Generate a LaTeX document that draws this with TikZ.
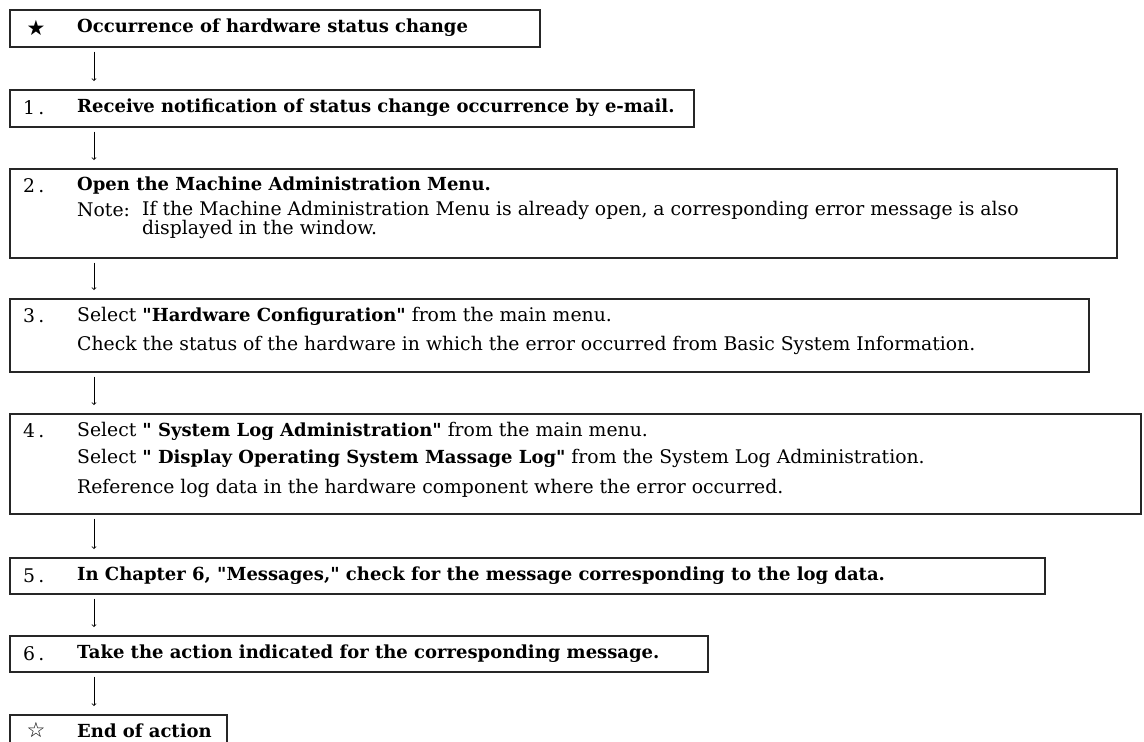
\documentclass[tikz,border=0pt]{standalone}
\usepackage{fontspec}
\newfontfamily\bodyfont{DejaVu Serif}
\newfontfamily\symbolfont{DejaVu Sans}
\usetikzlibrary{arrows,positioning}

\begin{document}
\begin{tikzpicture}[x=1pt,y=-1pt,
  stepbox/.style={draw=black!85, line width=1.5pt, anchor=north west, inner sep=0pt},
  steptext/.style={anchor=west, inner sep=0pt, font=\fontsize{18.8}{20}\bodyfont},
  stepbold/.style={anchor=west, inner sep=0pt, font=\fontsize{18}{20}\bodyfont\bfseries},
  stepnum/.style={anchor=west, inner sep=0pt, font=\fontsize{18.8}{20}\bodyfont},
  stepstar/.style={inner sep=0pt, font=\fontsize{21}{24}\symbolfont},
  flow/.style={->, line width=0.8pt, shorten <=4pt, shorten >=8pt}]
\clip (0,0) rectangle (1144,742);
\coordinate (lane) at (94,0);

\node[stepbox, minimum width=530pt, minimum height=37pt] (box0) at (9,9) {};
\node[stepbox, minimum width=684pt, minimum height=37pt] (box1) at (9,89) {};
\node[stepbox, minimum width=1107pt, minimum height=89pt] (box2) at (9,168) {};
\node[stepbox, minimum width=1079pt, minimum height=73pt] (box3) at (9,298) {};
\node[stepbox, minimum width=1131pt, minimum height=100pt] (box4) at (9,413) {};
\node[stepbox, minimum width=1035pt, minimum height=36pt] (box5) at (9,557) {};
\node[stepbox, minimum width=698pt, minimum height=36pt] (box6) at (9,635) {};
\node[stepbox, minimum width=217pt, minimum height=40pt] (box7) at (9,714) {};

\node[stepstar] (star0) at (36,28) {★};
\node[stepbold] (text0) at (77,28) {Occurrence of hardware status change};

\node[stepnum] (num1) at (23,108) {1\,.};
\node[stepbold] (text1) at (77,108) {Receive notification of status change occurrence by e-mail.};

\node[stepnum] (num2) at (23,186) {2\,.};
\node[stepbold] (text2) at (77,186) {Open the Machine Administration Menu.};
\node[steptext] (note2) at (77,210) {Note:};
\node[steptext] (note2a) at (142,210) {If the Machine Administration Menu is already open, a corresponding error message is also};
\node[steptext] (note2b) at (142,229) {displayed in the window.};

\node[stepnum] (num3) at (23,316) {3\,.};
\node[steptext] (text3) at (77,316) {Select {\fontsize{18}{20}\selectfont\bfseries"Hardware Configuration"} from the main menu.};
\node[steptext] (text3a) at (77,345) {Check the status of the hardware in which the error occurred from Basic System Information.};

\node[stepnum] (num4) at (23,431) {4\,.};
\node[steptext] (text4) at (77,431) {Select {\fontsize{18}{20}\selectfont\bfseries" System Log Administration"} from the main menu.};
\node[steptext] (text4a) at (77,458) {Select {\fontsize{18}{20}\selectfont\bfseries" Display Operating System Massage Log"} from the System Log Administration.};
\node[steptext] (text4b) at (77,488) {Reference log data in the hardware component where the error occurred.};

\node[stepnum] (num5) at (23,576) {5\,.};
\node[stepbold] (text5) at (77,576) {In Chapter 6, "Messages," check for the message corresponding to the log data.};

\node[stepnum] (num6) at (23,654) {6\,.};
\node[stepbold] (text6) at (77,654) {Take the action indicated for the corresponding message.};

\node[stepstar] (star7) at (36,730) {☆};
\node[stepbold] (text7) at (77,731) {End of action};

\draw[flow] (box0.south -| lane) -- (box1.north -| lane);
\draw[flow] (box1.south -| lane) -- (box2.north -| lane);
\draw[flow] (box2.south -| lane) -- (box3.north -| lane);
\draw[flow] (box3.south -| lane) -- (box4.north -| lane);
\draw[flow] (box4.south -| lane) -- (box5.north -| lane);
\draw[flow] (box5.south -| lane) -- (box6.north -| lane);
\draw[flow] (box6.south -| lane) -- (box7.north -| lane);
\end{tikzpicture}
\end{document}
